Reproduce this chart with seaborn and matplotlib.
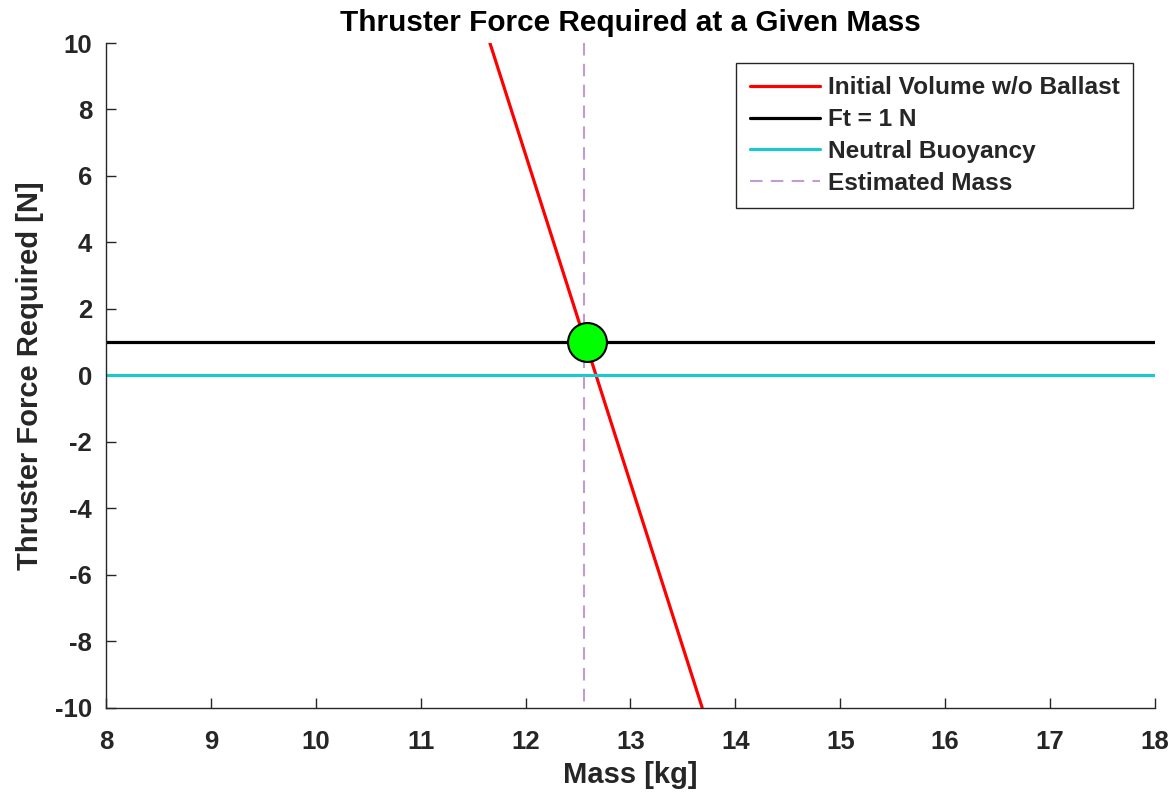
import matplotlib
matplotlib.use("Agg")
import matplotlib.pyplot as plt
import seaborn as sns
import pandas as pd

# ---- data ----
mass_red = [11.66, 13.683]
force_red = [10.0, -10.0]
mass_h = [8.0, 18.0]
force_ft = [1.0, 1.0]
force_neutral = [0.0, 0.0]
est_mass = [12.555, 12.555]
est_force = [10.0, -10.0]
point_mass = [12.585]
point_force = [1.0]
xticks = list(range(8, 19))
yticks = list(range(-10, 11, 2))

sns.set_style("ticks")
plt.rcParams['font.family'] = ['Liberation Sans', 'DejaVu Sans']
plt.rcParams['font.weight'] = 'bold'
plt.rcParams['axes.unicode_minus'] = False

fig = plt.figure(figsize=(11.74, 7.94), dpi=100)
ax = fig.add_axes([0.0903, 0.1089, 0.8935, 0.8369])

sns.lineplot(x=mass_red, y=force_red, ax=ax, color='#FF0000', lw=2.3,
             label='Initial Volume w/o Ballast')
sns.lineplot(x=mass_h, y=force_ft, ax=ax, color='black', lw=2.3, label='Ft = 1 N')
sns.lineplot(x=mass_h, y=force_neutral, ax=ax, color='#1CC8CC', lw=2.3,
             label='Neutral Buoyancy')
sns.lineplot(x=est_mass, y=est_force, ax=ax, color='#C39BD3', lw=1.5,
             label='Estimated Mass', estimator=None, sort=False)
ax.lines[-1].set_linestyle((0, (6, 4)))
ax.plot(point_mass, point_force, 'o', ms=28, mfc='#00FF00', mec='black', mew=1.5,
        zorder=5)

ax.set_xlim(8, 18)
ax.set_ylim(-10, 10)
ax.set_xticks(xticks)
ax.set_yticks(yticks)
ax.tick_params(direction='in', length=7, width=1, colors='#262626', labelsize=18.5)
ax.tick_params(axis='x', pad=16)
ax.tick_params(axis='y', pad=10)
for lab in ax.get_xticklabels() + ax.get_yticklabels():
    lab.set_fontweight('bold')
    lab.set_color('#262626')
for s in ['top', 'right']:
    ax.spines[s].set_visible(False)
for s in ['left', 'bottom']:
    ax.spines[s].set_color('#262626')
    ax.spines[s].set_linewidth(1)

ax.set_xlabel('Mass [kg]', fontsize=21, fontweight='bold', color='#262626', labelpad=5)
ax.set_ylabel('Thruster Force Required [N]', fontsize=21, fontweight='bold',
              color='#262626', labelpad=8)
ax.set_title('Thruster Force Required at a Given Mass', fontsize=21.4, fontweight='bold',
             color='black', pad=9)

leg = ax.legend(loc='upper right', bbox_to_anchor=(0.979, 0.970), borderaxespad=0,
                fontsize=17.6, frameon=True, fancybox=False, edgecolor='#262626',
                framealpha=1, handlelength=2.9, borderpad=0.55, labelspacing=0.36,
                handletextpad=0.3)
leg.get_frame().set_linewidth(1)
for t in leg.get_texts():
    t.set_fontweight('bold')

fig.savefig('out.png', dpi=100)
